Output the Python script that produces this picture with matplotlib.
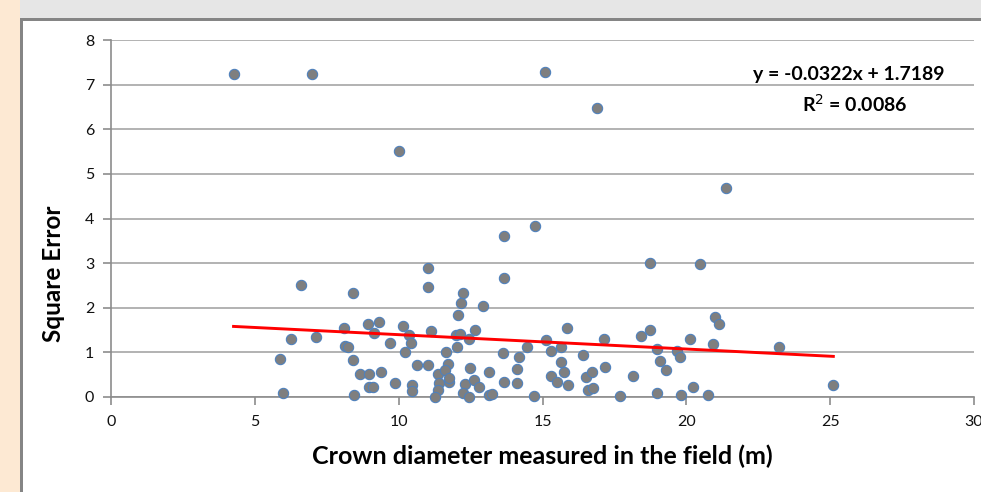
import numpy as np
import matplotlib.pyplot as plt
from matplotlib.patches import Rectangle

# crown diameter measured in the field (m)
crown_diam = [
    4.26, 6.99, 15.10, 16.89, 10.01, 21.39, 14.74, 13.65, 13.67, 11.03,
    11.01, 6.62, 8.41, 18.72, 20.49, 12.22, 12.16, 12.92, 12.07, 6.26,
    7.13, 8.10, 8.94, 9.31, 9.14, 8.15, 8.23, 9.71, 10.16, 10.37,
    10.42, 10.21, 11.11, 5.89, 8.41, 5.98, 8.46, 8.64, 8.97, 9.37,
    8.97, 9.12, 9.86, 10.46, 10.46, 10.65, 11.02, 11.65, 11.70, 11.37,
    11.61, 11.41, 11.35, 11.27, 11.75, 11.75, 11.99, 12.14, 12.43, 12.67,
    12.02, 12.49, 12.30, 12.63, 12.80, 12.25, 12.45, 13.15, 13.15, 13.26,
    13.67, 13.64, 14.13, 14.10, 14.19, 14.45, 14.72, 15.12, 15.30, 15.64,
    15.84, 15.64, 15.76, 15.30, 15.51, 15.90, 16.40, 16.52, 16.71, 16.57,
    16.76, 17.15, 17.19, 17.71, 18.16, 18.43, 18.73, 18.97, 19.08, 19.28,
    18.97, 19.69, 19.79, 19.83, 20.13, 20.23, 20.75, 20.93, 21.01, 21.15,
    23.22, 25.11,
]
# square error
sq_error = [
    7.24, 7.24, 7.29, 6.47, 5.52, 4.69, 3.83, 3.61, 2.66, 2.89,
    2.46, 2.52, 2.33, 3.01, 2.98, 2.33, 2.11, 2.04, 1.83, 1.30,
    1.34, 1.54, 1.64, 1.67, 1.43, 1.15, 1.12, 1.20, 1.58, 1.39,
    1.20, 1.01, 1.48, 0.85, 0.84, 0.08, 0.04, 0.51, 0.51, 0.55,
    0.22, 0.22, 0.31, 0.26, 0.13, 0.71, 0.71, 1.01, 0.75, 0.51,
    0.61, 0.31, 0.16, 0.00, 0.34, 0.43, 1.39, 1.41, 1.29, 1.50,
    1.11, 0.64, 0.29, 0.37, 0.23, 0.08, 0.00, 0.55, 0.04, 0.06,
    0.34, 0.98, 0.62, 0.32, 0.90, 1.11, 0.02, 1.28, 1.03, 1.11,
    1.54, 0.79, 0.55, 0.46, 0.34, 0.28, 0.94, 0.44, 0.55, 0.16,
    0.20, 1.30, 0.68, 0.02, 0.48, 1.37, 1.50, 1.08, 0.81, 0.61,
    0.08, 1.04, 0.90, 0.04, 1.30, 0.22, 0.04, 1.18, 1.80, 1.64,
    1.11, 0.28,
]

slope = -0.0322
intercept = 1.7189
r2 = 0.0086

x_ticks = [0, 5, 10, 15, 20, 25, 30]
y_ticks = [0, 1, 2, 3, 4, 5, 6, 7, 8]

plt.rcParams["font.family"] = ["Lato", "DejaVu Sans"]

fig = plt.figure(figsize=(9.81, 4.92), dpi=100)

# slide frame: orange strip on the left, gray band on top, dark border
fig.patches.append(Rectangle((0, 0), 20 / 981, 1, transform=fig.transFigure,
                             facecolor="#fde9d3", edgecolor="none", zorder=0))
fig.patches.append(Rectangle((20 / 981, 1 - 18 / 492), 1, 18 / 492, transform=fig.transFigure,
                             facecolor="#e6e6e6", edgecolor="none", zorder=0))
fig.patches.append(Rectangle((20 / 981, 1 - 21 / 492), 1, 3 / 492, transform=fig.transFigure,
                             facecolor="#858585", edgecolor="none", zorder=1))
fig.patches.append(Rectangle((20 / 981, 0), 3 / 981, 1 - 18 / 492, transform=fig.transFigure,
                             facecolor="#858585", edgecolor="none", zorder=1))

ax = fig.add_axes([111 / 981, 95 / 492, 863 / 981, 357 / 492])

ax.scatter(crown_diam, sq_error, s=55, facecolor="#7f7f7f", edgecolor="#4f81bd",
           linewidth=0.8, zorder=3, clip_on=False)

xs = np.array([min(crown_diam), max(crown_diam)])
ax.plot(xs, slope * xs + intercept, color="#ff0000", linewidth=2.1, zorder=4)

ax.set_xlim(0, 30)
ax.set_ylim(0, 8)
ax.set_xticks(x_ticks)
ax.set_yticks(y_ticks)
ax.yaxis.grid(True, color="#a6a6a6", linewidth=1.2)
ax.set_axisbelow(True)

for s in ["top", "right"]:
    ax.spines[s].set_visible(False)
for s in ["left", "bottom"]:
    ax.spines[s].set_color("#8c8c8c")
    ax.spines[s].set_linewidth(1.2)

ax.tick_params(axis="both", colors="#8c8c8c", labelcolor="#111111", labelsize=11.5,
               length=6, width=1.2)
ax.tick_params(axis="x", pad=7)
ax.tick_params(axis="y", pad=6)

ax.set_xlabel("Crown diameter measured in the field (m)", fontsize=18,
              fontweight="bold", color="#000000", labelpad=11)
ax.set_ylabel("Square Error", fontsize=17.5, fontweight="bold", color="#000000")
# the y label sits below the middle of the axis in the original
ax.yaxis.set_label_coords(-0.053, 0.345)

ax.text(0.855, 0.902, f"y = {slope:.4f}x + {intercept:.4f}", transform=ax.transAxes,
        ha="center", va="center", fontsize=14, fontweight="bold", color="#000000")
ax.text(0.862, 0.821, f"R$^2$ = {r2:.4f}", transform=ax.transAxes,
        ha="center", va="center", fontsize=14, fontweight="bold", color="#000000")

fig.savefig("out.png", dpi=100)
